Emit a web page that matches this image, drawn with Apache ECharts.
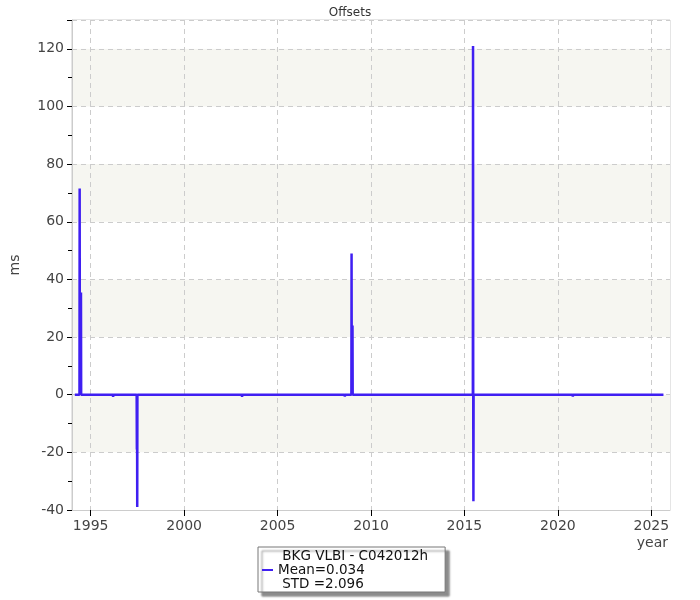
<!DOCTYPE html>
<html>
<head>
<meta charset="utf-8">
<script src="https://cdn.jsdelivr.net/npm/echarts@6/dist/echarts.min.js"></script>
<style>
  html, body { margin: 0; padding: 0; background: #fff; }
  #chart { width: 700px; height: 600px; }
</style>
</head>
<body>
<div id="chart"></div>
<script>
// offsets (year, ms)
const years = [
  1994.15, 1994.24, 1994.25, 1994.26, 1994.40, 1994.41, 1994.42, 1994.47, 1994.48, 1994.49,
  1996.19, 1996.20, 1996.21, 1997.46, 1997.47, 1997.48, 1997.49, 1997.50,
  2003.09, 2003.10, 2003.11, 2005.49, 2005.50, 2005.51, 2007.49, 2007.50, 2007.51,
  2008.59, 2008.60, 2008.61, 2008.95, 2008.96, 2008.97, 2009.00, 2009.01, 2009.02,
  2010.00, 2010.01, 2010.02, 2012.19, 2012.20, 2012.21,
  2015.45, 2015.46, 2015.47, 2015.48, 2015.49,
  2020.79, 2020.80, 2020.81, 2025.65
];
const offsets = [
  0, 0, -0.6, 0, 0, 71.5, 0, 0, 35.5, 0,
  0, -0.8, 0, 0, -19, -0.5, -39, 0,
  0, -0.8, 0, 0, 0.5, 0, 0, -0.6, 0,
  0, -0.7, 0, 0, 49, 0, 0, 24, 0,
  0, -0.6, 0, 0, 0.4, 0,
  0, 121, -0.5, -37, 0,
  0, -0.7, 0, 0
];
const yearTicks = [1995, 2000, 2005, 2010, 2015, 2020, 2025];
const seriesName = 'BKG VLBI - C042012h';
const statLines = ['Mean=0.034', ' STD =2.096'];

const chart = echarts.init(document.getElementById('chart'));
const font = 'DejaVu Sans';
chart.setOption({
  animation: false,
  textStyle: { fontFamily: font },
  title: {
    text: 'Offsets',
    left: 'center',
    top: 2,
    textStyle: { fontSize: 12, fontWeight: 'normal', color: '#333', fontFamily: font }
  },
  grid: {
    left: 70, right: 30, top: 20, bottom: 90,
    show: true, borderColor: '#ccc', borderWidth: 1, backgroundColor: 'transparent'
  },
  legend: {
    left: 258, top: 547,
    orient: 'vertical',
    padding: [2, 17, 1, 4],
    itemGap: 0,
    itemWidth: 11,
    itemHeight: 2,
    icon: 'rect',
    backgroundColor: '#fff',
    borderColor: '#777',
    borderWidth: 1,
    borderRadius: 0,
    shadowColor: 'rgba(0,0,0,0.45)',
    shadowBlur: 2,
    shadowOffsetX: 4,
    shadowOffsetY: 4,
    data: [seriesName],
    formatter: name => ' ' + name + '\n' + statLines.join('\n'),
    textStyle: { fontSize: 13.5, color: '#111', fontFamily: font, lineHeight: 14 }
  },
  xAxis: {
    type: 'value',
    min: 1994,
    max: 2026,
    name: 'year',
    nameLocation: 'end',
    nameGap: -2,
    nameTextStyle: {
      fontSize: 14, color: '#444', align: 'right', verticalAlign: 'top',
      padding: [26, 0, 0, 0], fontFamily: font
    },
    axisLine: { show: true, onZero: false, lineStyle: { color: '#ccc' } },
    axisTick: {
      show: true, length: 6, customValues: yearTicks,
      lineStyle: { color: '#000' }
    },
    axisLabel: {
      customValues: yearTicks,
      formatter: v => String(v),
      fontSize: 14, color: '#444', margin: 9, fontFamily: font
    },
    splitLine: { show: true, lineStyle: { color: '#ccc', type: [5, 4] } }
  },
  yAxis: {
    type: 'value',
    min: -40,
    max: 130,
    interval: 20,
    name: 'ms',
    nameLocation: 'middle',
    nameRotate: 90,
    nameGap: 50,
    nameTextStyle: { fontSize: 14, color: '#444', fontFamily: font },
    axisLine: { show: true, lineStyle: { color: '#ccc' } },
    axisTick: { show: true, length: 5, lineStyle: { color: '#000' } },
    minorTick: { show: true, splitNumber: 2, length: 4, lineStyle: { color: '#000' } },
    axisLabel: {
      fontSize: 14, color: '#444', margin: 8, fontFamily: font,
      formatter: v => (v % 20 === 0 ? String(v) : '')
    },
    splitLine: { show: true, lineStyle: { color: '#ccc', type: [5, 4] } },
    splitArea: { show: true, areaStyle: { color: ['#ffffff', '#f6f6f1'] } }
  },
  series: [{
    name: seriesName,
    type: 'line',
    data: years.map((y, i) => [y, offsets[i]]),
    showSymbol: false,
    symbol: 'none',
    color: '#3f1ff2',
    lineStyle: { width: 2.5, color: '#3f1ff2' },
    z: 3
  }]
});
</script>
</body>
</html>
